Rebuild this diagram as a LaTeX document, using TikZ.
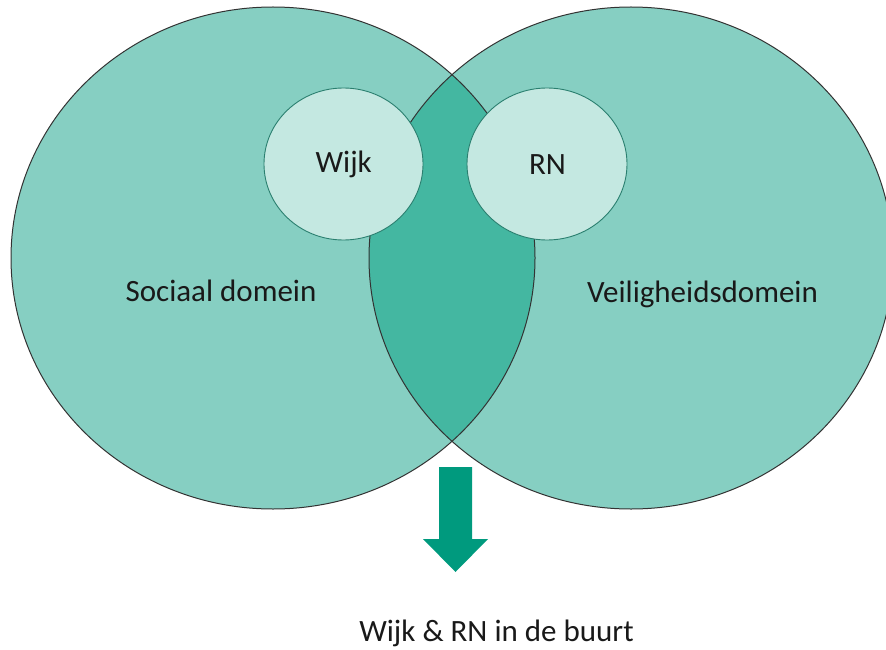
\documentclass[tikz,border=0pt]{standalone}
\usepackage{fontspec}
\setmainfont{Carlito}
\definecolor{bigfill}{HTML}{86CFC2}
\definecolor{lensfill}{HTML}{44B7A1}
\definecolor{smallfill}{HTML}{C4E8E1}
\definecolor{smallline}{HTML}{2A7F6F}
\definecolor{arrowfill}{HTML}{009A7E}
\begin{document}
\begin{tikzpicture}[x=1pt,y=-1pt,
  bigline/.style={draw=black!80,line width=1pt},
  smallcirc/.style={fill=smallfill,draw=smallline,line width=0.9pt},
  lbl/.style={font=\fontsize{31}{36}\selectfont,anchor=base,inner sep=0pt,text=black!90}]
\useasboundingbox (0,0) rectangle (886,650);
\begin{scope}
\clip (0,0) rectangle (886,650);
% big ellipses
\fill[bigfill] (273,258) ellipse [x radius=262pt, y radius=251pt];
\fill[bigfill] (631,258) ellipse [x radius=262pt, y radius=251pt];
\begin{scope}
\clip (273,258) ellipse [x radius=262pt, y radius=251pt];
\fill[lensfill] (631,258) ellipse [x radius=262pt, y radius=251pt];
\end{scope}
\draw[bigline] (273,258) ellipse [x radius=262pt, y radius=251pt];
\draw[bigline] (631,258) ellipse [x radius=262pt, y radius=251pt];
\end{scope}
% small circles
\draw[smallcirc] (343.5,164) ellipse [x radius=79.5pt, y radius=76pt];
\draw[smallcirc] (547,164) ellipse [x radius=80pt, y radius=76pt];
% labels
\node[lbl] (wijk) at (343.7,172) {Wijk};
\node[lbl] (rn) at (547.5,175) {RN};
\node[lbl] (sociaal) at (221,301) {Sociaal domein};
\node[lbl] (veilig) at (702.5,302) {Veiligheidsdomein};
\node[lbl] (buurt) at (496.5,641) {Wijk \& RN in de buurt};
% arrow
\fill[arrowfill] (439,467) -- (472,467) -- (472,539) -- (488,539) -- (455.5,572) -- (423,539) -- (439,539) -- cycle;
\end{tikzpicture}
\end{document}
